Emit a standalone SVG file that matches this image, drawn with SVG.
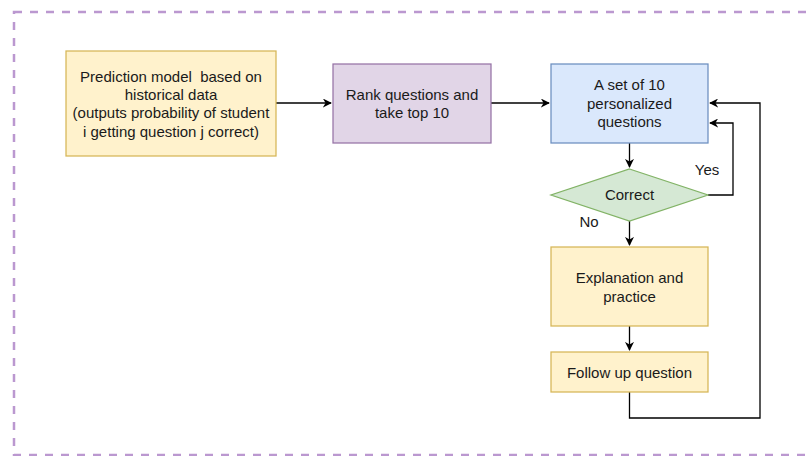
<svg xmlns="http://www.w3.org/2000/svg" width="809" height="456" viewBox="0 0 809 456">
<defs>
<marker id="arr" viewBox="0 0 10 10" refX="9" refY="5" markerWidth="9" markerHeight="9" markerUnits="userSpaceOnUse" orient="auto">
<path d="M0,0 L10,5 L0,10 L3,5 Z" fill="#000"/>
</marker>
</defs>
<style>
text{font-family:"Liberation Sans",Arial,sans-serif;font-size:15px;fill:#1a1a1a;text-anchor:middle}
.y{fill:#fff2cc;stroke:#d6b656;stroke-width:1.25}
.p{fill:#e1d5e7;stroke:#9673a6;stroke-width:1.25}
.b{fill:#dae8fc;stroke:#6c8ebf;stroke-width:1.25}
.g{fill:#d5e8d4;stroke:#82b366;stroke-width:1.25}
.c{fill:none;stroke:#000;stroke-width:1.3}
</style>
<rect x="14" y="12" width="830" height="443" fill="none" stroke="#bb98d0" stroke-width="2.5" stroke-dasharray="8 8"/>
<g id="connectors">
<path class="c" d="M276,103 H331" marker-end="url(#arr)"/>
<path class="c" d="M491,103 H549" marker-end="url(#arr)"/>
<path class="c" d="M629.5,143 V167" marker-end="url(#arr)"/>
<path class="c" d="M708,195 H733 V123 H710" marker-end="url(#arr)"/>
<path class="c" d="M629.5,221 V245" marker-end="url(#arr)"/>
<path class="c" d="M629.5,326 V350" marker-end="url(#arr)"/>
<path class="c" d="M629.5,392 V418 H760 V103 H710" marker-end="url(#arr)"/>
<text x="707" y="175">Yes</text>
<text x="589" y="227">No</text>
</g>
<g id="prediction">
<rect class="y" x="66" y="51" width="210" height="105"/>
<text x="171" y="82" xml:space="preserve">Prediction model  based on</text>
<text x="171" y="100">historical data</text>
<text x="171" y="118">(outputs probability of student</text>
<text x="171" y="137">i getting question j correct)</text>
</g>
<g id="rank">
<rect class="p" x="333" y="64" width="158" height="79"/>
<text x="412" y="100">Rank questions and</text>
<text x="412" y="118">take top 10</text>
</g>
<g id="set">
<rect class="b" x="551" y="64" width="157" height="79"/>
<text x="629.5" y="90">A set of 10</text>
<text x="629.5" y="109">personalized</text>
<text x="629.5" y="127">questions</text>
</g>
<g id="correct">
<path class="g" d="M629.5,169 L708,195 L629.5,221 L551,195 Z"/>
<text x="629.5" y="200">Correct</text>
</g>
<g id="explanation">
<rect class="y" x="551" y="247" width="157" height="79"/>
<text x="629.5" y="283">Explanation and</text>
<text x="629.5" y="302">practice</text>
</g>
<g id="followup">
<rect class="y" x="551" y="352" width="157" height="40"/>
<text x="629.5" y="378">Follow up question</text>
</g>
</svg>
